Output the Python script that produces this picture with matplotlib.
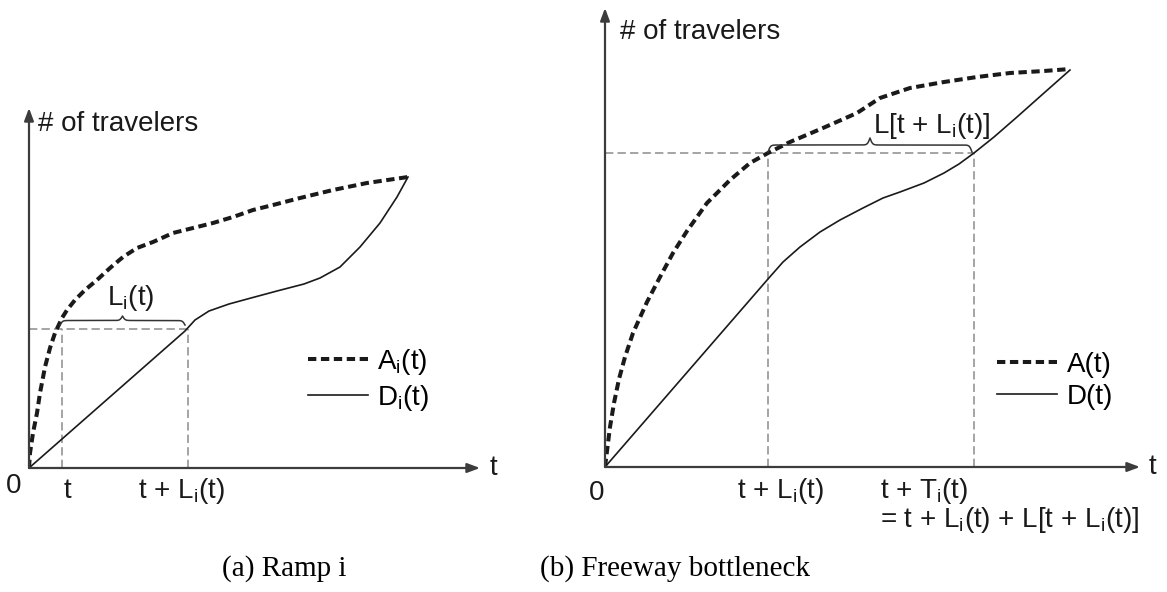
import numpy as np
import matplotlib
matplotlib.use("Agg")
import matplotlib.pyplot as plt

plt.rcParams['font.family'] = ['Liberation Sans', 'DejaVu Sans']
plt.rcParams['mathtext.fontset'] = 'custom'
plt.rcParams['mathtext.rm'] = 'Liberation Sans'
plt.rcParams['mathtext.it'] = 'Liberation Sans'
plt.rcParams['lines.scale_dashes'] = False

# ramp i: cumulative arrivals / departures (time, travelers)
ramp_A_t = [0, 1, 4, 8, 11, 16, 21, 26, 33, 38, 46, 56, 68, 81, 94, 108, 124, 144,
            164, 184, 204, 224, 244, 271, 304, 338, 379]
ramp_A_n = [0, 15, 35, 55, 75, 101, 120, 135, 150, 158, 168, 178, 188, 200, 211, 220,
            226, 235, 240, 245, 251, 258, 263, 270, 278, 285, 291]
ramp_D_t = [0, 156, 166, 180, 200, 222, 248, 275, 291, 311, 331, 351, 368, 379]
ramp_D_n = [0, 137, 148, 157, 164, 170, 177, 184, 190, 201, 221, 245, 271, 291]
ramp_t, ramp_tL, ramp_level = 33, 159, 139

# freeway bottleneck
fwy_A_t = [0, 2, 5, 9, 14, 20, 28, 42, 55, 68, 82, 102, 125, 145, 163, 185, 218, 252,
           275, 305, 339, 372, 405, 439, 465]
fwy_A_n = [0, 16, 40, 64, 88, 110, 134, 165, 190, 214, 236, 264, 287, 304, 314, 325,
           339, 354, 369, 379, 385, 390, 394, 396, 398]
fwy_D_t = [0, 163, 178, 195, 215, 235, 258, 278, 295, 319, 339, 354, 369, 389, 412,
           439, 465]
fwy_D_n = [0, 188, 205, 220, 235, 247, 259, 269, 275, 284, 294, 303, 314, 330, 350,
           374, 397]
fwy_tL, fwy_tT, fwy_level = 163, 369, 314

W, H = 1167, 592
fig = plt.figure(figsize=(W / 100, H / 100), dpi=100)

ink = '#1a1a1a'
axis_col = '#3c3c3c'
guide_col = '#8c8c8c'
fs = 20


def make_axes(left, bottom, width, height):
    # axes sized in pixels so one data unit is one pixel
    ax = fig.add_axes([left / W, 1 - bottom / H, width / W, height / H])
    ax.set_xlim(0, width)
    ax.set_ylim(0, height)
    ax.axis('off')
    arrow = dict(arrowstyle='-|>,head_length=0.75,head_width=0.28', color=axis_col,
                 lw=1.6, shrinkA=0, shrinkB=0, mutation_scale=10)
    ax.annotate('', xy=(1, 0), xytext=(0, 0), xycoords='axes fraction', arrowprops=arrow)
    ax.annotate('', xy=(0, 1), xytext=(0, 0), xycoords='axes fraction', arrowprops=arrow)
    return ax


def brace(ax, x0, x1, y, h, beta=0.8):
    half = np.linspace(0, (x1 - x0) / 2, 150)
    yh = 1 / (1 + np.exp(-beta * half)) + 1 / (1 + np.exp(-beta * (half - half[-1])))
    ys = np.concatenate([yh, yh[-2::-1]])
    xs = np.linspace(x0, x1, len(ys))
    ax.plot(xs, y + h * (ys - 0.5), color='#333333', lw=1.1)


def curves(ax, At, An, Dt, Dn, labels, leg_xy):
    la, = ax.plot(At, An, color=ink, lw=2.9, dashes=(6, 3.3))
    ld, = ax.plot(Dt, Dn, color=ink, lw=1.2)
    ax.legend([la, ld], labels, loc='upper left', bbox_to_anchor=leg_xy,
              bbox_transform=ax.transData, frameon=False, fontsize=fs,
              borderpad=0, borderaxespad=0, handlelength=2.15,
              handletextpad=0.35, labelspacing=0.2)


def guides(ax, xs, level):
    ax.plot([0, max(xs)], [level, level], color=guide_col, lw=1.1, dashes=(6, 3))
    for x in xs:
        ax.plot([x, x], [0, level], color=guide_col, lw=1.1, dashes=(6, 3))


# (a) ramp i
ax1 = make_axes(29, 468, 451, 360)
guides(ax1, [ramp_t, ramp_tL], ramp_level)
curves(ax1, ramp_A_t, ramp_A_n, ramp_D_t, ramp_D_n,
       [r'A$_\mathrm{i}$(t)', r'D$_\mathrm{i}$(t)'], (279, 121))
brace(ax1, 31, 156, 143, 9)
ax1.text(9, 337, '# of travelers', fontsize=fs, color=ink)
ax1.text(78, 163, r'L$_\mathrm{i}$(t)', fontsize=fs, color=ink)
ax1.text(-15, -25, '0', fontsize=fs, color=ink, ha='center')
ax1.text(38, -30, 't', fontsize=fs, color=ink, ha='center')
ax1.text(109, -30, r't + L$_\mathrm{i}$(t)', fontsize=fs, color=ink)
ax1.text(461, 0, 't', fontsize=fs, color=ink, va='center')

# (b) freeway bottleneck
ax2 = make_axes(605, 467, 535, 459)
guides(ax2, [fwy_tL, fwy_tT], fwy_level)
curves(ax2, fwy_A_t, fwy_A_n, fwy_D_t, fwy_D_n, ['A(t)', 'D(t)'], (392, 115))
brace(ax2, 163, 367, 315, 14)
ax2.text(15, 428, '# of travelers', fontsize=fs, color=ink)
ax2.text(268, 334, r'L[t + L$_\mathrm{i}$(t)]', fontsize=fs, color=ink)
ax2.text(-8, -33, '0', fontsize=fs, color=ink, ha='center')
ax2.text(132, -31, r't + L$_\mathrm{i}$(t)', fontsize=fs, color=ink)
ax2.text(275, -31, r't + T$_\mathrm{i}$(t)', fontsize=fs, color=ink)
ax2.text(275, -60, r'= t + L$_\mathrm{i}$(t) + L[t + L$_\mathrm{i}$(t)]', fontsize=fs, color=ink)
ax2.text(544, 0, 't', fontsize=fs, color=ink, va='center')

fig.text(284.5 / W, 1 - 576 / H, '(a) Ramp i', family='Liberation Serif',
         fontsize=21, ha='center', va='baseline', color='black')
fig.text(675.5 / W, 1 - 576 / H, '(b) Freeway bottleneck', family='Liberation Serif',
         fontsize=21, ha='center', va='baseline', color='black')

fig.savefig('out.png', dpi=100, facecolor='white')
